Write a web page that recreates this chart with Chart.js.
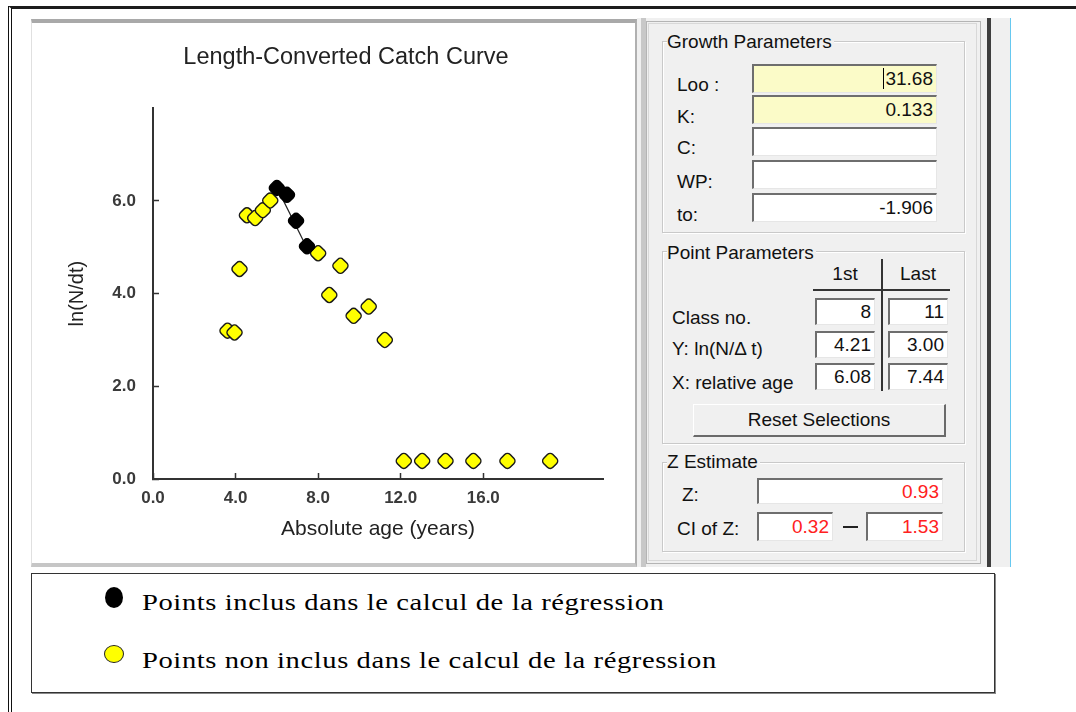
<!DOCTYPE html>
<html>
<head>
<meta charset="utf-8">
<script src="https://cdn.jsdelivr.net/npm/chart.js@4.4.1/dist/chart.umd.min.js"></script>
<style>
body{margin:0;width:1076px;height:712px;background:#fff;position:relative;overflow:hidden;font-family:"Liberation Sans",Arial,sans-serif;color:#111}
.a{position:absolute;box-sizing:border-box}
.t{position:absolute;height:24px;line-height:24px;font-size:19px;white-space:nowrap}
.g{position:absolute;box-sizing:border-box;border:1px solid #c9c9c9;box-shadow:inset 1px 1px 0 #fff,1px 1px 0 #fff}
.lg{background:#f0f0f0;padding-right:2px}
.e{position:absolute;box-sizing:border-box;border-top:2px solid #6e6e6e;border-left:2px solid #6e6e6e;border-right:1px solid #e6e6e6;border-bottom:1px solid #e6e6e6;background:#fff;text-align:right;padding-right:3px;font-size:19px;white-space:nowrap}
.y{background:#fbfbc8}
.r{color:#ff2020}
.leg{position:absolute;font-family:"Liberation Serif","Times New Roman",serif;font-size:24px;letter-spacing:0.5px;line-height:24px;white-space:nowrap;color:#000;transform:scaleX(1.19);transform-origin:0 50%}
</style>
</head>
<body>
<!-- outer frame -->
<div class="a" style="left:8px;top:6px;width:1080px;height:720px;border-top:3px solid #1c1c1c;border-left:4px double #111"></div>

<!-- chart panel -->
<div class="a" style="left:31px;top:19px;width:606px;height:548px;border-top:4px solid #a9a9a9;border-bottom:4px solid #c6c6c6;border-left:1px solid #e0e0e0;border-right:2px solid #b0b0b0;background:#fff"></div>
<canvas id="grafCatch" width="603" height="540" style="position:absolute;left:32px;top:23px"></canvas>

<!-- right panel -->
<div class="a" style="left:637px;top:18px;width:350px;height:549px;background:#f0f0f0"></div>
<div class="a" style="left:641px;top:18px;width:5px;height:549px;background:#c8c8c8"></div>
<div class="a" style="left:646px;top:21px;width:335px;height:543px;border:1px solid #b4b4b4"></div>
<div class="a" style="left:648px;top:23px;width:329px;height:538px;border:1px solid #d8d8d8"></div>
<div class="a" style="left:987px;top:18px;width:4px;height:549px;background:#3e3e3e"></div>
<div class="a" style="left:991px;top:18px;width:19px;height:549px;background:#f0f0f0"></div>
<div class="a" style="left:1010px;top:18px;width:1px;height:549px;background:#66c8f0"></div>

<!-- Growth Parameters -->
<div class="g" style="left:662px;top:41px;width:303px;height:192px"></div>
<div class="t lg" style="left:667px;top:30px">Growth Parameters</div>
<div class="t" style="left:677px;top:73px">Loo :</div>
<div class="t" style="left:677px;top:105px">K:</div>
<div class="t" style="left:677px;top:136px">C:</div>
<div class="t" style="left:677px;top:170px">WP:</div>
<div class="t" style="left:677px;top:203px">to:</div>
<div class="e y" style="left:752px;top:64px;width:185px;height:29px;line-height:26px"><span style="border-left:1px solid #000;padding-left:1px">31.68</span></div>
<div class="e y" style="left:752px;top:95px;width:185px;height:29px;line-height:26px">0.133</div>
<div class="e" style="left:752px;top:127px;width:185px;height:29px"></div>
<div class="e" style="left:752px;top:160px;width:185px;height:29px"></div>
<div class="e" style="left:752px;top:193px;width:185px;height:29px;line-height:26px">-1.906</div>

<!-- Point Parameters -->
<div class="g" style="left:662px;top:251px;width:303px;height:193px"></div>
<div class="t lg" style="left:667px;top:241px">Point Parameters</div>
<div class="t" style="left:815px;top:262px;width:60px;text-align:center">1st</div>
<div class="t" style="left:888px;top:262px;width:60px;text-align:center">Last</div>
<div class="a" style="left:881px;top:259px;width:2px;height:132px;background:#333"></div>
<div class="a" style="left:813px;top:289px;width:137px;height:2px;background:#333"></div>
<div class="t" style="left:672px;top:306px">Class no.</div>
<div class="t" style="left:672px;top:337px">Y: ln(N/Δ t)</div>
<div class="t" style="left:672px;top:371px">X: relative age</div>
<div class="e" style="left:815px;top:298px;width:60px;height:27px;line-height:24px">8</div>
<div class="e" style="left:888px;top:298px;width:60px;height:27px;line-height:24px">11</div>
<div class="e" style="left:815px;top:331px;width:60px;height:27px;line-height:24px">4.21</div>
<div class="e" style="left:888px;top:331px;width:60px;height:27px;line-height:24px">3.00</div>
<div class="e" style="left:815px;top:363px;width:60px;height:27px;line-height:24px">6.08</div>
<div class="e" style="left:888px;top:363px;width:60px;height:27px;line-height:24px">7.44</div>
<div class="a" style="left:693px;top:404px;width:253px;height:33px;border-top:1px solid #fff;border-left:1px solid #fff;border-right:2px solid #6a6a6a;border-bottom:2px solid #6a6a6a;background:#f0f0f0;text-align:center;line-height:29px;font-size:19px">Reset Selections</div>

<!-- Z Estimate -->
<div class="g" style="left:662px;top:462px;width:303px;height:90px"></div>
<div class="t lg" style="left:667px;top:450px">Z Estimate</div>
<div class="t" style="left:682px;top:483px">Z:</div>
<div class="t" style="left:677px;top:517px">CI of Z:</div>
<div class="e r" style="left:757px;top:478px;width:186px;height:26px;line-height:24px">0.93</div>
<div class="e r" style="left:757px;top:512px;width:76px;height:29px;line-height:26px">0.32</div>
<div class="a" style="left:843px;top:526px;width:15px;height:2px;background:#222"></div>
<div class="e r" style="left:866px;top:512px;width:77px;height:29px;line-height:26px">1.53</div>

<!-- legend box -->
<div class="a" style="left:31px;top:573px;width:964px;height:120px;border:1px solid #333;box-shadow:1px 1px 0 #888"></div>
<div class="a" style="left:105px;top:587px;width:18px;height:21px;border-radius:50%;background:#000"></div>
<div class="leg" style="left:142px;top:590px">Points inclus dans le calcul de la régression</div>
<div class="a" style="left:104px;top:645px;width:20px;height:18px;border-radius:50%;background:#ffff00;border:1.5px solid #222"></div>
<div class="leg" style="left:142px;top:648px">Points non inclus dans le calcul de la régression</div>

<script>
const ageIncl = [6.0, 6.49, 6.93, 7.46];
const lnIncl = [6.28, 6.13, 5.57, 5.02];
const ageExcl = [3.61, 3.95, 4.19, 4.55, 4.95, 5.32, 5.68, 8.0, 8.54, 9.08, 9.72, 10.45, 11.23, 12.15, 13.04, 14.17, 15.52, 17.17, 19.24];
const lnExcl = [3.20, 3.16, 4.53, 5.69, 5.63, 5.80, 6.01, 4.87, 3.97, 4.60, 3.52, 3.72, 3.00, 0.39, 0.39, 0.39, 0.39, 0.39, 0.39];
const regAge = [6.1, 7.35];
const regLn = [6.2, 5.08];
const xTicks = [0, 4, 8, 12, 16];
const yTicks = [0, 2, 4, 6];
const xMax = 21.8;
const yMax = 8;

const toPts = (xs, ys) => xs.map((x, i) => ({x: x, y: ys[i]}));

Chart.defaults.font.family = '"Liberation Sans", Arial, sans-serif';

const ctx = document.getElementById('grafCatch').getContext('2d');

const grafCatch = new Chart(ctx, {
    type: 'scatter',
    data: {
        datasets: [{
            label: 'inclus',
            data: toPts(ageIncl, lnIncl),
            pointStyle: 'rectRounded',
            pointRotation: 45,
            pointRadius: 7.5,
            pointBackgroundColor: '#000',
            pointBorderColor: '#000',
            pointBorderWidth: 1.5,
            order: 1
        }, {
            label: 'non inclus',
            data: toPts(ageExcl, lnExcl),
            pointStyle: 'rectRounded',
            pointRotation: 45,
            pointRadius: 7.5,
            pointBackgroundColor: '#ffff00',
            pointBorderColor: '#1a1a1a',
            pointBorderWidth: 1.5,
            order: 2
        }, {
            label: 'regression',
            data: toPts(regAge, regLn),
            showLine: true,
            pointRadius: 0,
            borderColor: '#222',
            borderWidth: 1.2,
            order: 3
        }]
    },
    options: {
        responsive: false,
        animation: false,
        events: [],
        layout: { padding: { left: 57, right: 32, top: 0, bottom: 0 } },
        plugins: {
            legend: { display: false },
            tooltip: { enabled: false },
            title: {
                display: true,
                text: 'Length-Converted Catch Curve',
                color: '#222',
                font: { size: 23.5, weight: 'normal' },
                padding: { top: 20, bottom: 37 }
            }
        },
        scales: {
            x: {
                type: 'linear',
                min: 0,
                max: xMax,
                afterBuildTicks: s => { s.ticks = xTicks.map(v => ({ value: v })); },
                afterFit: s => { s.height = 84; },
                border: { display: true, color: '#333', width: 2 },
                grid: { display: true, drawOnChartArea: false, drawTicks: true, tickLength: -6, tickColor: '#333', tickWidth: 1.5 },
                ticks: { padding: 15, color: '#3a3a3a', font: { size: 17, weight: 'bold' }, maxRotation: 0, autoSkip: false, callback: v => v.toFixed(1) },
                title: { display: true, text: 'Absolute age (years)', color: '#222', font: { size: 21 }, padding: { top: 0, bottom: 21 } }
            },
            y: {
                type: 'linear',
                min: 0,
                max: yMax,
                afterBuildTicks: s => { s.ticks = yTicks.map(v => ({ value: v })); },
                afterFit: s => { s.width = 64; },
                border: { display: true, color: '#333', width: 2 },
                grid: { display: true, drawOnChartArea: false, drawTicks: true, tickLength: -6, tickColor: '#333', tickWidth: 1.5 },
                ticks: { padding: 23, color: '#3a3a3a', font: { size: 17, weight: 'bold' }, callback: v => v.toFixed(1) },
                title: { display: true, text: 'ln(N/dt)', color: '#222', font: { size: 20 }, padding: { top: -24, bottom: 0 } }
            }
        }
    }
});
</script>
</body>
</html>
